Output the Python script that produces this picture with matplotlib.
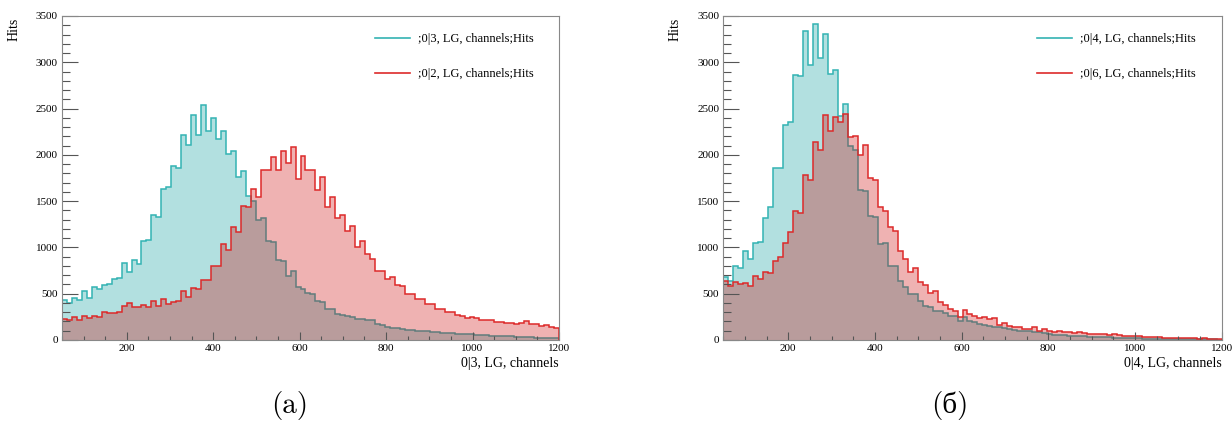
import numpy as np
import matplotlib
matplotlib.use('Agg')
import matplotlib.pyplot as plt
from matplotlib.lines import Line2D
from matplotlib.ticker import MultipleLocator

# 100 bins between 50 and 1200 channels
edges = np.linspace(50, 1200, 101)

# panel (a)
hits_03 = [436, 396, 450, 436, 526, 457, 576, 551, 594, 608,
           655, 673, 828, 738, 860, 824, 1066, 1076, 1346, 1332,
           1631, 1649, 1883, 1854, 2218, 2106, 2434, 2214, 2538, 2257,
           2394, 2171, 2254, 2009, 2045, 1764, 1829, 1552, 1498, 1300,
           1320, 1070, 1060, 860, 850, 690, 740, 575, 550, 510,
           495, 420, 410, 340, 330, 285, 275, 260, 250, 230,
           222, 218, 212, 170, 160, 140, 135, 125, 118, 110,
           105, 100, 98, 92, 88, 85, 80, 76, 72, 68,
           64, 62, 60, 58, 52, 50, 48, 44, 42, 40,
           38, 36, 34, 30, 28, 26, 24, 22, 20, 18]
hits_02 = [227, 216, 252, 216, 256, 238, 263, 245, 299, 292,
           292, 306, 367, 396, 360, 353, 378, 353, 425, 371,
           439, 389, 407, 425, 526, 468, 562, 547, 652, 652,
           796, 803, 1037, 972, 1217, 1163, 1451, 1440, 1631, 1541,
           1840, 1840, 1980, 1840, 2045, 1912, 2081, 1739, 1991, 1836,
           1836, 1620, 1764, 1440, 1541, 1318, 1354, 1181, 1235, 1001,
           1066, 929, 875, 749, 749, 659, 684, 590, 585, 500,
           495, 445, 440, 390, 385, 340, 330, 300, 298, 265,
           262, 240, 250, 235, 218, 215, 212, 195, 190, 188,
           180, 178, 182, 200, 175, 170, 155, 160, 140, 135]

# panel (б)
hits_04 = [677, 634, 803, 778, 958, 871, 1048, 1062, 1318, 1440,
           1858, 1858, 2322, 2358, 2862, 2851, 3334, 2974, 3413, 3042,
           3305, 2873, 2916, 2423, 2549, 2099, 2052, 1620, 1606, 1336,
           1325, 1037, 1051, 796, 803, 641, 576, 497, 497, 418,
           371, 353, 310, 310, 288, 263, 263, 200, 250, 209,
           191, 173, 166, 155, 144, 137, 130, 119, 108, 101,
           101, 94, 83, 83, 72, 65, 58, 55, 52, 48,
           45, 42, 40, 36, 34, 32, 30, 28, 26, 24,
           22, 20, 19, 18, 16, 15, 14, 13, 12, 11,
           10, 10, 9, 8, 8, 7, 7, 6, 6, 5]
hits_06 = [641, 580, 630, 605, 612, 580, 695, 659, 738, 724,
           857, 893, 1044, 1163, 1397, 1368, 1786, 1732, 2135, 2052,
           2434, 2254, 2405, 2351, 2441, 2189, 2207, 1994, 2106, 1746,
           1728, 1440, 1397, 1220, 1181, 958, 875, 731, 774, 623,
           598, 504, 526, 407, 382, 335, 317, 252, 324, 281,
           263, 238, 245, 227, 238, 166, 180, 155, 144, 137,
           119, 119, 137, 101, 119, 94, 90, 100, 90, 88,
           80, 85, 75, 70, 65, 68, 60, 55, 62, 50,
           48, 45, 40, 42, 35, 30, 32, 28, 25, 27,
           22, 20, 22, 18, 17, 15, 18, 14, 12, 13]

labels_a = [';0|3, LG, channels;Hits', ';0|2, LG, channels;Hits']
labels_b = [';0|4, LG, channels;Hits', ';0|6, LG, channels;Hits']
xlabels = ['0|3, LG, channels', '0|4, LG, channels']
captions = ['(a)', '(б)']

CYAN = '#009999'
CYAN_LINE = '#33b3b3'
RED = '#cc0000'
RED_LINE = '#dd2a2a'

plt.rcParams['font.family'] = ['Liberation Serif', 'DejaVu Serif']


def draw_panel(ax, first, second, labels, xlabel):
    ax.stairs(first, edges, fill=True, color=CYAN, alpha=0.3, lw=0)
    ax.stairs(first, edges, color=CYAN_LINE, lw=1.1)
    ax.stairs(second, edges, fill=True, color=RED, alpha=0.3, lw=0)
    ax.stairs(second, edges, color=RED_LINE, lw=1.1)

    ax.set_xlim(50, 1200)
    ax.set_ylim(0, 3500)
    ax.xaxis.set_major_locator(MultipleLocator(200))
    ax.xaxis.set_minor_locator(MultipleLocator(50))
    ax.yaxis.set_major_locator(MultipleLocator(500))
    ax.yaxis.set_minor_locator(MultipleLocator(100))
    ax.tick_params(axis='both', which='both', direction='in', colors='#555555',
                   labelcolor='black', labelsize=8, width=0.8)
    ax.tick_params(axis='y', which='major', length=11.5, pad=3)
    ax.tick_params(axis='y', which='minor', length=5.8)
    ax.tick_params(axis='x', which='major', length=5.8, pad=3)
    ax.tick_params(axis='x', which='minor', length=2.9)
    for s in ax.spines.values():
        s.set_color('#888888')
        s.set_linewidth(0.8)

    ax.set_xlabel(xlabel, loc='right', fontsize=10, labelpad=3)
    ax.set_ylabel('Hits', loc='top', fontsize=10)
    ax.yaxis.set_label_coords(-0.084, 0.995)

    handles = [Line2D([], [], color=CYAN_LINE, lw=1.2),
               Line2D([], [], color=RED_LINE, lw=1.2)]
    ax.legend(handles, labels, loc='upper left', bbox_to_anchor=(0.62, 0.962),
              frameon=False, fontsize=9, handlelength=2.8, handletextpad=0.6,
              labelspacing=1.85, borderaxespad=0)


fig = plt.figure(figsize=(12.32, 4.21), dpi=100)
ax_a = fig.add_axes([0.0503, 0.1924, 0.4034, 0.7696])
ax_b = fig.add_axes([0.5871, 0.1924, 0.4045, 0.7696])

draw_panel(ax_a, hits_03, hits_02, labels_a, xlabels[0])
draw_panel(ax_b, hits_04, hits_06, labels_b, xlabels[1])

fig.text(0.2354, 0.038, captions[0], ha='center', va='center', fontsize=21,
         family=['cmr10', 'Liberation Serif'])
fig.text(0.771, 0.038, captions[1], ha='center', va='center', fontsize=21,
         family=['cmr10', 'Liberation Serif'])

fig.savefig('out.png', dpi=100)
